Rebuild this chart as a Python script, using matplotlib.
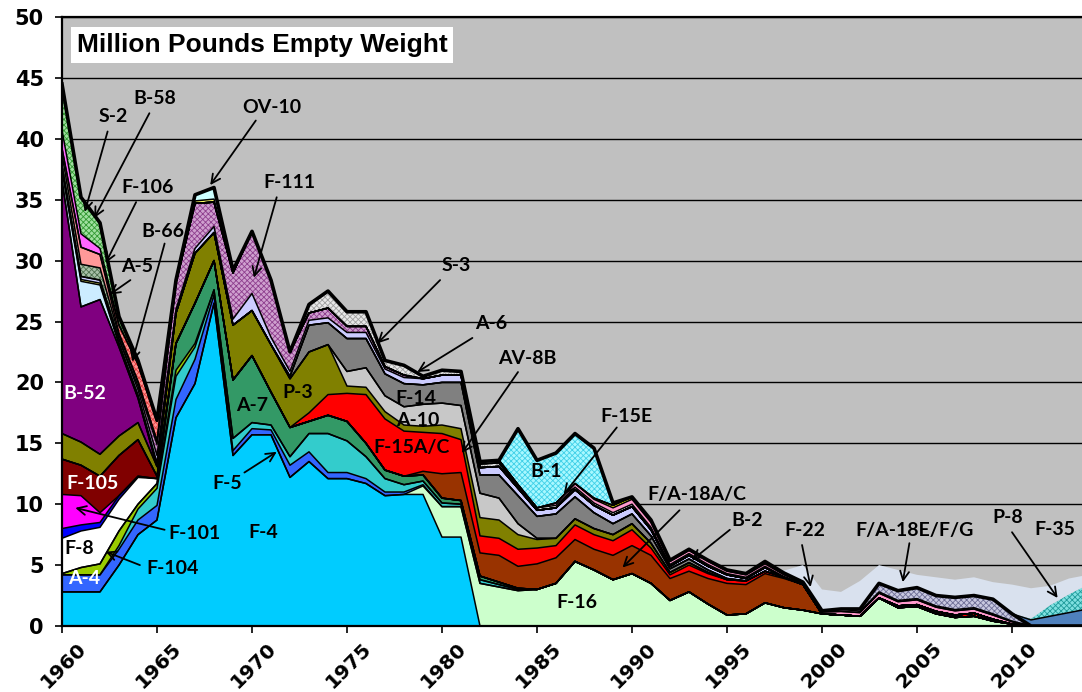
import numpy as np
import matplotlib
matplotlib.use("Agg")
import matplotlib.pyplot as plt
from matplotlib.transforms import ScaledTranslation

# ---------------- data (million lb empty weight, by year) ----------------
YEAR0, YEAR1 = 1960, 2014
# each series: (first year, values for consecutive years)
F4 = (1960, [2.8, 2.8, 2.8, 5.0, 7.5, 8.7, 17.1, 19.9, 26.5, 14.0, 15.7, 15.7, 12.2, 13.5, 12.1,
             12.1, 11.7, 10.7, 10.8, 10.8, 7.3, 7.3, 0.0])
F16 = (1978, [0.0, 0.7, 2.5, 2.5, 3.5, 3.2, 2.9, 3.0, 3.5, 5.3, 4.6, 3.8, 4.3, 3.5, 2.1, 2.8, 1.8,
              0.9, 1.0, 1.9, 1.5, 1.3, 1.0, 0.9, 0.8, 2.3, 1.5, 1.6, 1.0, 0.7, 0.8, 0.4, 0.15, 0.0])
A4 = (1960, [1.4, 1.4, 1.4, 1.3, 1.2, 1.2, 1.5, 2.0, 0.7, 0.4, 0.5, 0.4, 1.0, 0.8, 0.5, 0.5, 0.4,
             0.3, 0.2, 0.1, 0.0])
F5 = (1962, [0.0, 0.3, 0.9, 1.4, 1.9, 1.0, 0.4, 1.0, 0.5, 0.4, 0.7, 1.5, 3.2, 2.6, 1.8, 1.1, 0.6,
             0.3, 0.3, 0.2, 0.3, 0.2, 0.1, 0.0])
F104 = (1960, [0.1, 0.6, 0.9, 1.2, 0.4, 0.4, 0.5, 0.3, 0.0])
A7 = (1965, [0.0, 2.2, 3.3, 2.4, 4.8, 5.5, 2.7, 2.4, 1.0, 1.5, 1.6, 1.1, 0.7, 0.7, 0.5, 0.4, 0.3,
             0.3, 0.2, 0.1, 0.0])
F8 = (1960, [2.9, 3.0, 3.0, 2.6, 2.2, 0.4, 0.0])
F102 = (1960, [0.8, 0.5, 0.4, 0.3, 0.1, 0.0])
F101 = (1960, [2.8, 2.4, 0.8, 0.0])
F105 = (1960, [2.9, 2.5, 3.0, 3.3, 3.0, 0.2, 0.0])
FA18AC = (1978, [0.0, 0.3, 2.0, 2.3, 1.9, 2.2, 1.8, 2.1, 2.1, 1.8, 1.7, 2.0, 2.3, 2.3, 1.8, 1.7,
                 2.1, 2.6, 2.4, 2.4, 2.4, 2.1, 0.0])
F15AC = (1972, [0.0, 0.7, 1.7, 2.3, 4.0, 4.2, 3.7, 3.2, 3.3, 2.7, 1.4, 1.4, 1.4, 1.3, 1.0, 1.2,
                1.2, 1.2, 1.3, 0.6, 0.3, 0.5, 0.4, 0.3, 0.3, 0.2, 0.1, 0.0, 0.0, 0.0, 0.0, 0.0,
                0.15, 0.15, 0.2, 0.2, 0.25, 0.15, 0.0])
P3 = (1960, [2.1, 1.9, 1.8, 1.6, 1.4, 0.8, 2.5, 4.1, 2.3, 4.5, 3.7, 3.9, 4.0, 5.0, 4.1, 0.6, 0.6,
             0.6, 0.5, 0.5, 0.7, 0.9, 1.5, 1.5, 1.2, 0.7, 0.6, 0.5, 0.5, 0.5, 0.5, 0.4, 0.2, 0.2,
             0.1, 0.0])
A10 = (1974, [0.0, 1.2, 1.6, 1.3, 1.5, 1.8, 1.8, 1.9, 2.0, 1.8, 0.9, 0.1, 0.0])
B52 = (1960, [20.8, 11.1, 12.7, 7.3, 2.0, 0.0])
F14 = (1971, [0.0, 0.2, 2.2, 1.8, 2.7, 2.4, 1.8, 1.9, 1.6, 1.7, 1.9, 1.5, 1.9, 2.3, 1.8, 2.0, 1.8,
              1.3, 0.9, 0.8, 0.6, 0.3, 0.3, 0.2, 0.1, 0.0])
LB = (1960, [0.8, 2.1, 1.2, 0.2, 0.1, 0.0])
YL = (1960, [0.1, 0.15, 0.15, 0.15, 0.2, 0.3, 0.0])
A6 = (1960, [0.3, 0.25, 0.25, 0.3, 0.4, 0.6, 0.3, 0.4, 0.5, 0.5, 1.4, 0.6, 0.4, 0.4, 0.4, 0.5, 0.5,
             0.4, 0.5, 0.5, 0.6, 0.6, 0.6, 0.7, 0.6, 0.5, 0.5, 0.6, 0.6, 0.7, 0.6, 0.5, 0.2, 0.3,
             0.3, 0.3, 0.2, 0.3, 0.0])
F111 = (1963, [0.0, 0.3, 0.9, 2.2, 3.7, 2.0, 3.8, 5.1, 4.7, 1.6, 0.6, 0.8, 0.5, 0.5, 0.2, 0.2, 0.0])
A5 = (1960, [0.9, 1.0, 1.0, 0.3, 0.3, 0.3, 0.0])
F106 = (1960, [0.5, 1.4, 1.1, 0.2, 0.1, 0.0])
B66 = (1962, [0.0, 0.6, 1.4, 1.6, 0.0])
S2 = (1960, [1.5, 1.1, 0.5, 0.1, 0.0])
B58 = (1960, [3.8, 3.0, 2.1, 0.65, 0.3, 0.1, 0.0])
S3 = (1972, [0.0, 0.7, 1.4, 1.2, 1.2, 0.5, 0.8, 0.2, 0.4, 0.3, 0.3, 0.3, 0.1, 0.0])
Y2 = (1965, [0.0, 0.05, 0.2, 0.25, 0.0])
OV10 = (1965, [0.0, 0.15, 0.5, 0.95, 0.2, 0.0])
WH = (1981, [0.0, 0.2, 0.2, 0.2, 0.2, 0.2, 0.2, 0.2, 0.2, 0.2, 0.2, 0.15, 0.15, 0.15, 0.1, 0.1,
             0.1, 0.05, 0.0])
F15E = (1985, [0.0, 0.2, 0.3, 0.3, 0.4, 0.4, 0.4, 0.25, 0.25, 0.25, 0.2, 0.2, 0.2, 0.15, 0.1, 0.15,
               0.3, 0.3, 0.4, 0.35, 0.4, 0.35, 0.35, 0.35, 0.35, 0.2, 0.0])
B2 = (1987, [0.0, 0.1, 0.2, 0.2, 0.2, 0.1, 0.1, 0.1, 0.1, 0.1, 0.1, 0.05, 0.0])
F22 = (1996, [0.0, 0.1, 0.1, 0.1, 0.1, 0.2, 0.1, 0.1, 0.1, 0.1, 0.1, 0.1, 0.1, 0.1, 0.05, 0.0])
FA18EF = (2001, [0.0, 0.2, 0.7, 0.8, 0.9, 0.85, 1.0, 1.0, 1.2, 0.6, 0.0])
B1 = (1983, [0.0, 4.6, 3.9, 4.1, 4.1, 4.1, 0.2, 0.0])
P8 = (2010, [0.0, 0.5, 0.8, 1.1, 1.4])
F35 = (2010, [0.0, 0.1, 0.9, 1.5, 2.0])
OTHER = (1997, [0.0, 0.2, 1.4, 1.75, 1.4, 2.3, 1.5, 1.7, 1.05, 1.5, 1.45, 1.5, 1.4, 2.4, 2.5, 1.6,
                1.3, 0.8])

Y_TICKS = [0, 5, 10, 15, 20, 25, 30, 35, 40, 45, 50]
X_TICKS = [1960, 1965, 1970, 1975, 1980, 1985, 1990, 1995, 2000, 2005, 2010]
TITLE = "Million Pounds Empty Weight"

# (text, label x, label y, colour, arrow start, arrow tip)
LABELS = [
    ("B-52", 1961.2, 19.1, "white", None, None),
    ("F-105", 1961.6, 11.7, "white", None, None),
    ("F-101", 1967.0, 7.6, "black", (1965.4, 7.9), (1960.7, 9.7)),
    ("F-8", 1960.9, 6.4, "black", None, None),
    ("A-4", 1961.15, 3.9, "white", None, None),
    ("F-104", 1965.8, 4.76, "black", (1964.1, 5.0), (1962.3, 6.1)),
    ("F-5", 1968.7, 11.7, "black", (1969.6, 12.6), (1971.3, 14.3)),
    ("F-4", 1970.6, 7.7, "black", None, None),
    ("A-7", 1970.0, 18.1, "black", None, None),
    ("P-3", 1972.4, 19.2, "black", None, None),
    ("F-111", 1971.95, 36.4, "black", (1971.3, 35.2), (1970.1, 28.6)),
    ("OV-10", 1971.05, 42.6, "black", (1970.2, 41.5), (1967.8, 36.2)),
    ("S-2", 1962.7, 41.8, "black", (1962.4, 40.6), (1961.2, 34.0)),
    ("B-58", 1964.9, 43.3, "black", (1964.6, 42.1), (1961.7, 33.5)),
    ("F-106", 1964.5, 36.0, "black", (1963.9, 34.8), (1962.3, 29.8)),
    ("A-5", 1963.95, 29.5, "black", (1963.6, 28.4), (1962.5, 27.2)),
    ("B-66", 1965.3, 32.35, "black", (1965.4, 31.4), (1963.7, 21.7)),
    ("S-3", 1980.75, 29.6, "black", (1979.9, 28.4), (1976.6, 23.2)),
    ("A-6", 1982.6, 24.8, "black", (1981.6, 23.65), (1978.7, 20.85)),
    ("AV-8B", 1984.5, 22.0, "black", (1984.0, 20.85), (1981.05, 14.2)),
    ("F-14", 1978.6, 18.7, "black", None, None),
    ("A-10", 1978.7, 16.9, "black", None, None),
    ("F-15A/C", 1978.4, 14.65, "black", None, None),
    ("B-1", 1985.5, 12.7, "black", None, None),
    ("F-15E", 1989.7, 17.2, "black", (1989.2, 16.3), (1986.4, 10.8)),
    ("F/A-18A/C", 1993.4, 10.76, "black", (1992.5, 9.5), (1989.5, 4.8)),
    ("B-2", 1996.05, 8.7, "black", (1995.15, 7.9), (1993.15, 5.4)),
    ("F-22", 1999.1, 7.8, "black", (1998.95, 6.65), (1999.4, 3.2)),
    ("F/A-18E/F/G", 2004.85, 7.8, "black", (2004.6, 6.8), (2004.25, 3.6)),
    ("P-8", 2009.75, 8.87, "black", (2010.0, 7.7), (2012.4, 2.3)),
    ("F-35", 2012.25, 7.9, "black", None, None),
    ("F-16", 1987.1, 1.9, "black", None, None),
]

# ---------------- build ----------------
years = np.arange(YEAR0, YEAR1 + 1)


def full(series):
    start, vals = series
    arr = np.zeros(len(years))
    i = start - YEAR0
    arr[i:i + len(vals)] = vals
    return arr


# stacking order bottom -> top : (series, face colour, hatch, hatch colour)
layers = [
    (F4, "#00CCFF", None, None),
    (F16, "#CCFFCC", None, None),
    (A4, "#3366FF", None, None),
    (F5, "#33CCCC", None, None),
    (F104, "#99CC00", None, None),
    (A7, "#339966", None, None),
    (F8, "#FFFFFF", None, None),
    (F102, "#0000FF", None, None),
    (F101, "#FF00FF", None, None),
    (F105, "#800000", None, None),
    (FA18AC, "#993300", None, None),
    (F15AC, "#FF0000", None, None),
    (P3, "#808000", None, None),
    (A10, "#C8C8C8", None, None),
    (B52, "#800080", None, None),
    (F14, "#808080", None, None),
    (LB, "#CCECFF", None, None),
    (YL, "#FFFF66", None, None),
    (A6, "#CCCCFF", None, None),
    (F111, "#CFA0CF", "xxxxxx", "#8E3F8E"),
    (A5, "#A8C0A8", "xxxxxx", "#4F704F"),
    (F106, "#FF9999", None, None),
    (B66, "#FF9090", "xxxxxx", "#E04040"),
    (S2, "#FF66FF", None, None),
    (B58, "#A0E0A0", "xxxxxx", "#339933"),
    (S3, "#E8E8E8", "xxxxxx", "#A0A0A0"),
    (Y2, "#FFFF66", None, None),
    (OV10, "#CCFFFF", None, None),
    (WH, "#FFFFFF", None, None),
    (F15E, "#FF99CC", None, None),
    (B2, "#FFFF00", None, None),
    (F22, "#FFCCFF", None, None),
    (FA18EF, "#C8C8E0", "xxxxxx", "#6E6E96"),
    (B1, "#A8F8FF", "xxxxxx", "#40D0E8"),
    (P8, "#4F81BD", None, None),
    (F35, "#7FE0E0", "xxxxxx", "#1F9A9A"),
    (OTHER, "#D9E1EE", None, None),
]

plt.rcParams["hatch.linewidth"] = 0.6
fig = plt.figure(figsize=(10.82, 6.92), dpi=100)
ax = fig.add_axes([62 / 1082, 66 / 692, 1 - 62 / 1082, (626 - 17) / 692])
ax.set_facecolor("#C0C0C0")

for yv in Y_TICKS[1:]:
    ax.axhline(yv, color="black", lw=1.0, zorder=1)

cum = np.zeros(len(years))
bounds = []
for series, fc, hatch, hc in layers:
    vals = full(series)
    top = cum + vals
    if hatch:
        ax.fill_between(years, cum, top, facecolor=fc, edgecolor=hc, hatch=hatch,
                        linewidth=0, zorder=2)
    else:
        ax.fill_between(years, cum, top, facecolor=fc, edgecolor="none", linewidth=0, zorder=2)
    bounds.append(top.copy())
    cum = top

n = len(layers)
i_p8 = n - 3
for k, b in enumerate(bounds):
    if k >= n - 2:
        continue
    ax.plot(years, b, color="black", lw=1.1, zorder=3)
ax.plot(years, bounds[i_p8 - 1], color="black", lw=2.6, zorder=4)

ax.set_xlim(1960, 1960 + (1082 - 62) / 19)
ax.set_ylim(0, 50)
ax.set_yticks(Y_TICKS)
ax.set_xticks(X_TICKS)
ax.tick_params(axis="y", direction="out", length=5, width=1.2, pad=8, labelsize=15)
ax.tick_params(axis="x", direction="out", length=5, width=1.2, pad=4, labelsize=14.5)
for lab in ax.get_yticklabels():
    lab.set_fontweight("bold")
    lab.set_family("DejaVu Sans")
offset = ScaledTranslation(15 / 100, 0, fig.dpi_scale_trans)
for lab in ax.get_xticklabels():
    lab.set_fontweight("bold")
    lab.set_family("DejaVu Sans")
    lab.set_rotation(45)
    lab.set_ha("right")
    lab.set_va("top")
    lab.set_rotation_mode("anchor")
    lab.set_transform(lab.get_transform() + offset)

for side in ("left", "bottom", "top"):
    ax.spines[side].set_color("black")
    ax.spines[side].set_linewidth(1.6)
ax.spines["right"].set_visible(False)

ax.text(15 / 1020, 0.954, TITLE, transform=ax.transAxes, ha="left", va="center",
        fontsize=19, fontweight="bold", family="Liberation Sans", zorder=6,
        bbox=dict(facecolor="white", edgecolor="none", pad=4))

for text, lx, ly, col, start, tip in LABELS:
    ax.text(lx, ly, text, ha="center", va="center", color=col, fontsize=14,
            fontweight="bold", family="Lato", zorder=6)
    if start is not None:
        ax.annotate("", xy=tip, xytext=start,
                    arrowprops=dict(arrowstyle="->", color="black", lw=1.3,
                                    shrinkA=0, shrinkB=0, mutation_scale=16), zorder=6)

fig.savefig("out.png", dpi=100)
